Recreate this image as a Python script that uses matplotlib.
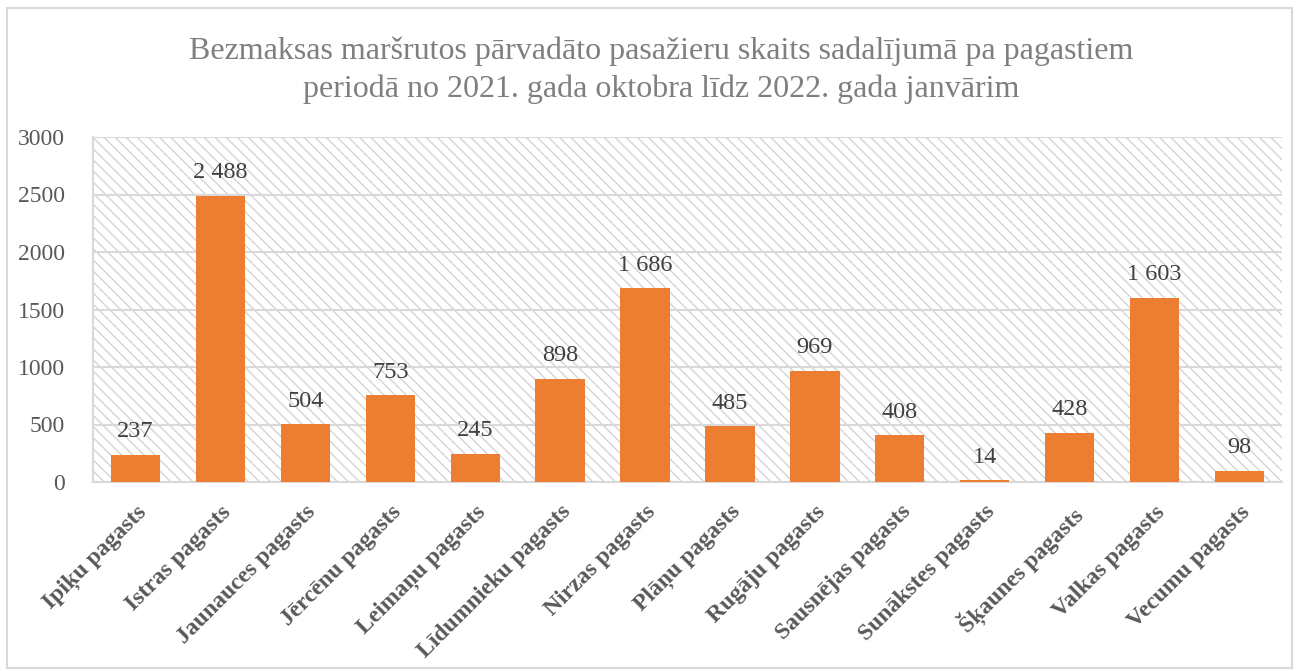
import matplotlib
matplotlib.use("Agg")
import matplotlib.pyplot as plt
from matplotlib.patches import Rectangle
import numpy as np

# data
pagasti = ['Ipiķu pagasts', 'Istras pagasts', 'Jaunauces pagasts', 'Jērcēnu pagasts',
           'Leimaņu pagasts', 'Līdumnieku pagasts', 'Nirzas pagasts', 'Plāņu pagasts',
           'Rugāju pagasts', 'Sausnējas pagasts', 'Sunākstes pagasts', 'Šķaunes pagasts',
           'Valkas pagasts', 'Vecumu pagasts']
pasazieri = [237, 2488, 504, 753, 245, 898, 1686, 485, 969, 408, 14, 428, 1603, 98]
y_ticks = [0, 500, 1000, 1500, 2000, 2500, 3000]

title = ('Bezmaksas maršrutos pārvadāto pasažieru skaits sadalījumā pa pagastiem\n'
         'periodā no 2021. gada oktobra līdz 2022. gada janvārim')

plt.rcParams['font.family'] = ['Liberation Serif', 'DejaVu Serif']
plt.rcParams['hatch.linewidth'] = 1.0

W, H = 1301, 671
fig = plt.figure(figsize=(W / 100, H / 100), dpi=100)
ax = fig.add_axes([93 / W, 1 - 482 / H, (1282 - 93) / W, (482 - 137) / H])

# outer chart border
fig.patches.append(Rectangle((7 / W, 1 - 668 / H), (1292 - 7) / W, (668 - 8) / H,
                             transform=fig.transFigure, fill=False,
                             edgecolor='#d9d9d9', linewidth=1.5))

# patterned plot area
ax.add_patch(Rectangle((0, 0), 1, 1, transform=ax.transAxes, facecolor='white',
                       edgecolor='#d4d4d4', linewidth=0, hatch='\\\\\\', zorder=0))

x = np.arange(len(pagasti))
bars = ax.bar(x, pasazieri, width=0.58, color='#ED7D31', zorder=3)

for xi, v in zip(x, pasazieri):
    txt = f'{v:,}'.replace(',', ' ')
    ax.annotate(txt, (xi, v), xytext=(0, 9), textcoords='offset points',
                ha='center', va='bottom', fontsize=17.5, color='#404040', zorder=4)

ax.set_xlim(-0.5, len(pagasti) - 0.5)
ax.set_ylim(0, 3000)
ax.set_yticks(y_ticks)
ax.set_yticklabels([str(t) for t in y_ticks], fontsize=17, color='#595959')
ax.tick_params(axis='y', length=0, pad=20)
ax.tick_params(axis='x', length=0, pad=14)
ax.set_xticks(x)
ax.set_xticklabels(pagasti, rotation=45, ha='right', va='top', rotation_mode='anchor',
                   fontsize=17, fontweight='bold', color='#595959')

ax.yaxis.grid(True, color='#d9d9d9', linewidth=1.5, zorder=1)
ax.set_axisbelow(True)
for s in ['top', 'right']:
    ax.spines[s].set_visible(False)
ax.spines['left'].set_color('#d9d9d9')
ax.spines['left'].set_linewidth(1.5)
ax.spines['bottom'].set_color('#d9d9d9')
ax.spines['bottom'].set_linewidth(1.5)

fig.text(661 / W, 1 - 70 / H, title, ha='center', va='center', fontsize=23,
         color='#7f7f7f', linespacing=1.4)

fig.savefig('out.png', dpi=100)
